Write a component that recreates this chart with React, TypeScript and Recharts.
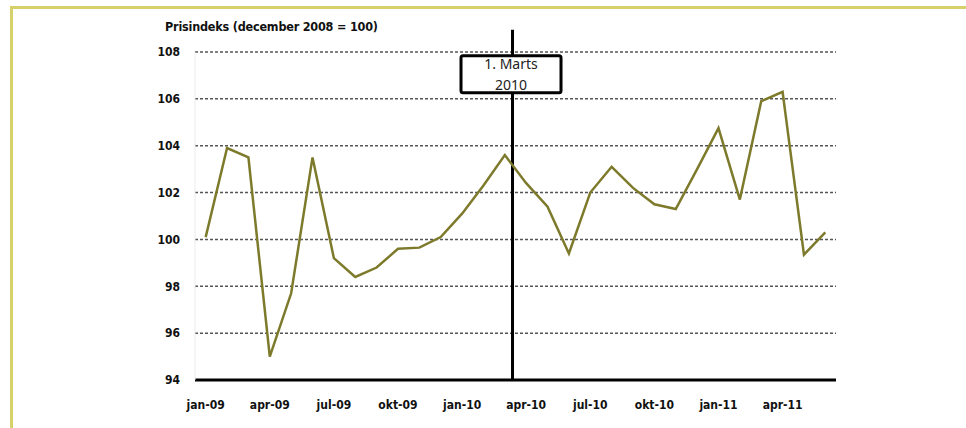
import { LineChart, Line, XAxis, YAxis, CartesianGrid, ReferenceLine } from "recharts";

const months = [
  "jan-09", "feb-09", "mar-09", "apr-09", "maj-09", "jun-09", "jul-09", "aug-09", "sep-09", "okt-09", "nov-09", "dec-09",
  "jan-10", "feb-10", "mar-10", "apr-10", "maj-10", "jun-10", "jul-10", "aug-10", "sep-10", "okt-10", "nov-10", "dec-10",
  "jan-11", "feb-11", "mar-11", "apr-11", "maj-11", "jun-11",
];

const prisindeks = [
  100.1, 103.9, 103.5, 95.0, 97.7, 103.5, 99.2, 98.4, 98.8, 99.6, 99.65, 100.1,
  101.1, 102.3, 103.6, 102.4, 101.4, 99.4, 102.0, 103.1, 102.2, 101.5, 101.3, 103.0,
  104.75, 101.7, 105.9, 106.3, 99.35, 100.3,
];

const yTicks = [94, 96, 98, 100, 102, 104, 106, 108];
const xTickIdx = [0, 3, 6, 9, 12, 15, 18, 21, 24, 27];

// 1. marts 2010 som position på månedsaksen
const MARTS_2010 = 14.36;

const data = months.map((m, i) => ({ i, month: m, value: prisindeks[i] }));

const axisFont = {
  fontFamily: "'Liberation Sans Narrow', 'DejaVu Sans Condensed', 'Liberation Sans', Arial, sans-serif",
  fontSize: 12,
  fontWeight: 700,
  fill: "#111",
};

function MartsLabel(props: any) {
  const vb = props.viewBox || {};
  const cx = vb.x - 1.5;
  const top = vb.y + 26;
  return (
    <g>
      <rect x={cx - 50} y={top} width={100} height={37} rx={2} fill="#fff" stroke="#000" strokeWidth={3} />
      <text x={cx} y={top + 13} textAnchor="middle" style={{ fontFamily: "'Noto Sans', 'Open Sans', sans-serif", fontSize: 14, fill: "#222" }}>
        1. Marts
      </text>
      <text x={cx} y={top + 34} textAnchor="middle" style={{ fontFamily: "'Noto Sans', 'Open Sans', sans-serif", fontSize: 14, fill: "#222" }}>
        2010
      </text>
    </g>
  );
}

export default function App() {
  return (
    <div style={{ position: "absolute", left: 0, top: 0, width: 966, height: 428, background: "#fff", overflow: "hidden" }}>
      <div
        style={{
          position: "absolute",
          left: 10,
          top: 6,
          right: 0,
          bottom: 0,
          borderTop: "3px solid #d6d16a",
          borderLeft: "3px solid #d6d16a",
        }}
      />
      <div
        style={{
          position: "absolute",
          left: 165,
          top: 19,
          ...axisFont,
          fontSize: 12.5,
          letterSpacing: -0.2,
          color: "#111",
          whiteSpace: "nowrap",
        }}
      >
        Prisindeks (december 2008 = 100)
      </div>
      <div style={{ position: "absolute", left: 0, top: 0 }}>
        <LineChart width={966} height={428} data={data} margin={{ top: 52, right: 130, bottom: 0, left: 0 }}>
          <CartesianGrid vertical={false} stroke="#555" strokeDasharray="3 2" strokeWidth={1.5} />
          <XAxis
            dataKey="i"
            type="number"
            domain={[-0.5, 29.5]}
            ticks={xTickIdx}
            tickFormatter={(v: number) => months[v]}
            interval={0}
            height={48}
            tickSize={0}
            tickMargin={20}
            tick={axisFont}
            axisLine={{ stroke: "#000", strokeWidth: 3 }}
            tickLine={false}
          />
          <YAxis
            type="number"
            domain={[94, 108]}
            ticks={yTicks}
            width={195}
            tickSize={0}
            tickMargin={15}
            tick={axisFont}
            axisLine={{ stroke: "#ececec" }}
            tickLine={false}
          />
          <ReferenceLine
            segment={[
              { x: MARTS_2010, y: 94 },
              { x: MARTS_2010, y: 108.95 },
            ]}
            stroke="#000"
            strokeWidth={3}
            ifOverflow="visible"
            label={<MartsLabel />}
          />
          <Line
            type="linear"
            dataKey="value"
            stroke="#7d7a2c"
            strokeWidth={2.5}
            dot={false}
            isAnimationActive={false}
          />
        </LineChart>
      </div>
    </div>
  );
}
